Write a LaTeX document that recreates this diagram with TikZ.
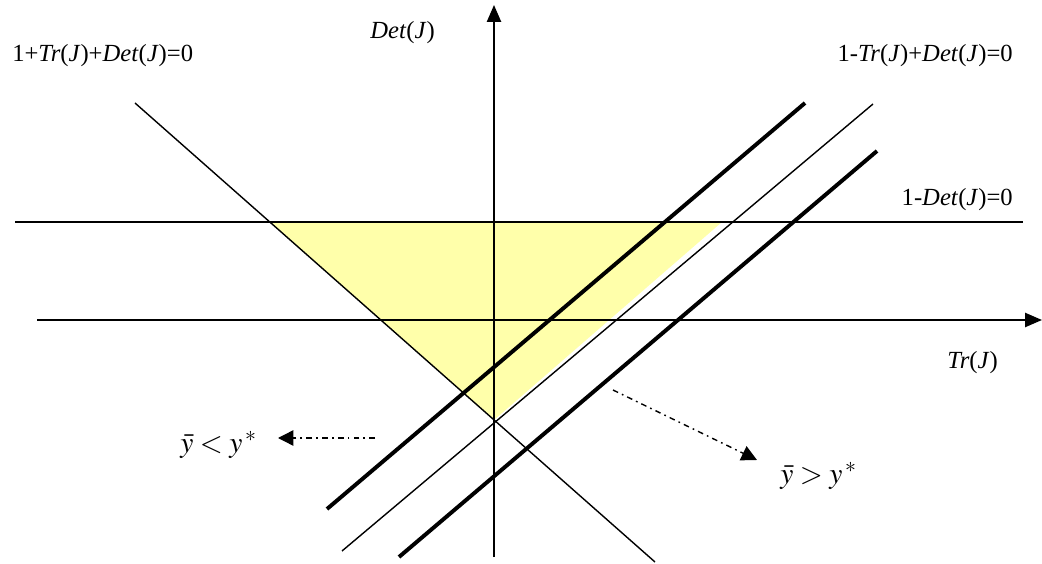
\documentclass[tikz,border=0pt]{standalone}
\usepackage{mathptmx}
\usepackage{fontspec}
\setmainfont{Liberation Serif}
\usetikzlibrary{arrows.meta}
\definecolor{stablefill}{RGB}{255,255,170}

\begin{document}
\begin{tikzpicture}[x=0.025cm,y=-0.025cm]
  \tikzset{
    axis/.style={
      line width=1.4pt,
      -{Triangle[length=12pt,width=10pt]}
    }
  }
  \tikzset{
    bound/.style={
      line width=1pt
    }
  }
  \tikzset{
    shifted/.style={
      line width=2.8pt
    }
  }
  \tikzset{
    drift/.style={
      line width=1pt,
      dash pattern=on 4pt off 3pt on 1.2pt off 3pt,
      -{Triangle[length=11pt,width=11pt]}
    }
  }
  \tikzset{
    lbl/.style={
      font=\fontsize{17.5}{20}\selectfont,
      inner sep=0pt
    }
  }
  \tikzset{
    mlbl/.style={
      font=\fontsize{21}{24}\selectfont,
      inner sep=0pt
    }
  }

  \useasboundingbox (0,0) rectangle (1042,564);

  % stability triangle
  \coordinate (A) at (270,222);
  \coordinate (B) at (722,222);
  \coordinate (C) at (494,420);
  \fill[stablefill] (A) -- (B) -- (C) -- cycle;

  % axes
  \coordinate (V0) at (494,557);
  \coordinate (V1) at (494,5);
  \coordinate (H0) at (37,320);
  \coordinate (H1) at (1042,320);
  \draw[axis] (V0) -- (V1);
  \draw[axis] (H0) -- (H1);

  % boundaries
  \coordinate (D0) at (15,222);
  \coordinate (D1) at (1023,222);
  \coordinate (P0) at (135,103);
  \coordinate (P1) at (655,562);
  \coordinate (M0) at (342,551);
  \coordinate (M1) at (873,104);
  \draw[bound] (D0) -- (D1);
  \draw[bound] (P0) -- (P1);
  \draw[bound] (M0) -- (M1);

  % shifted lines
  \coordinate (S0) at (327,509);
  \coordinate (S1) at (805,103);
  \coordinate (T0) at (399,557);
  \coordinate (T1) at (877,151);
  \draw[shifted] (S0) -- (S1);
  \draw[shifted] (T0) -- (T1);

  % drift arrows
  \coordinate (GL0) at (375,438);
  \coordinate (GL1) at (278,438);
  \coordinate (GR0) at (613,390);
  \coordinate (GR1) at (757,460);
  \draw[drift] (GL0) -- (GL1);
  \draw[drift] (GR0) -- (GR1);

  % labels
  \node[lbl,anchor=west] (lplus) at (12,56) {1+\textit{Tr}(\textit{J})+\textit{Det}(\textit{J})=0};
  \node[lbl,anchor=east] (lminus) at (1013,56) {1-\textit{Tr}(\textit{J})+\textit{Det}(\textit{J})=0};
  \node[lbl,anchor=east] (ldet) at (435,33) {\textit{Det}(\textit{J})};
  \node[lbl,anchor=east] (lone) at (1013,200) {1-\textit{Det}(\textit{J})=0};
  \node[lbl,anchor=east] (ltr) at (998,363) {\textit{Tr}(\textit{J})};
  \node[mlbl,anchor=west] (lless) at (180,445) {$\bar{y}<y^{\,*}$};
  \node[mlbl,anchor=west] (lmore) at (780,476) {$\bar{y}>y^{\,*}$};
\end{tikzpicture}
\end{document}
